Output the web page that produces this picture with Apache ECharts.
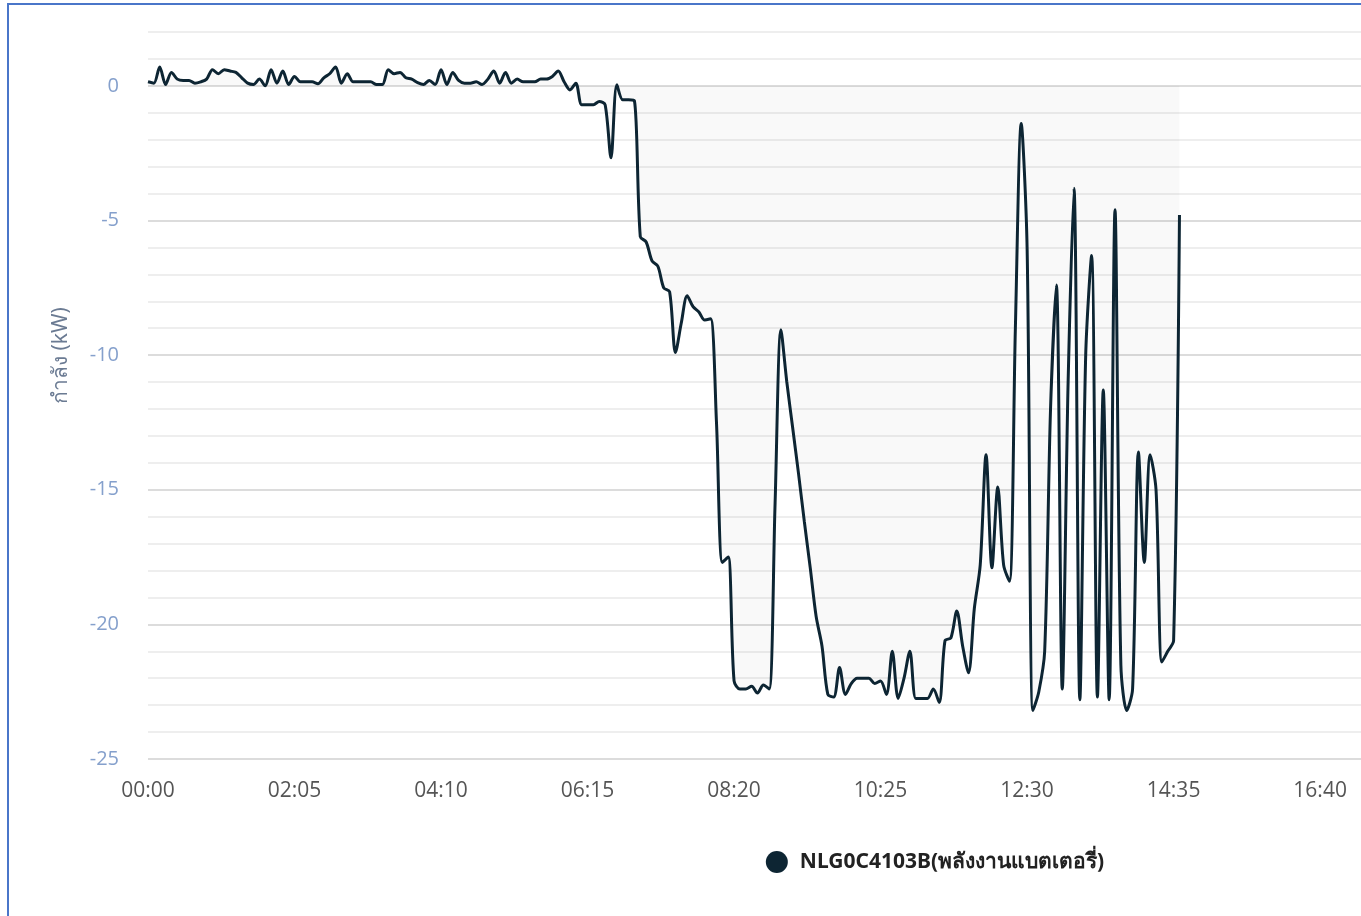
<!DOCTYPE html>
<html>
<head>
<meta charset="utf-8">
<script src="https://cdn.jsdelivr.net/npm/echarts@6/dist/echarts.min.js"></script>
<style>
html,body{margin:0;padding:0;width:1361px;height:916px;overflow:hidden;background:#fff;}
#frame{position:absolute;left:7px;top:3px;width:2000px;height:1200px;border:2px solid #4a76c9;box-sizing:border-box;}
#chart{position:absolute;left:10px;top:6px;width:1850px;height:910px;}
</style>
</head>
<body>
<div id="frame"></div>
<div id="chart"></div>
<script>
// time categories (5-minute steps, full day)
const times = [];
for (let m = 0; m < 1440; m += 5) {
  times.push(String(Math.floor(m / 60)).padStart(2, '0') + ':' + String(m % 60).padStart(2, '0'));
}
const seriesName = 'NLG0C4103B(พลังงานแบตเตอรี่)';
const yAxisName = 'กำลัง (kW)';
// battery power (kW), 00:00 .. 14:40
const power = [
  0.15, 0.1, 0.7, 0.05, 0.5, 0.25, 0.2, 0.2, 0.1, 0.15,
  0.25, 0.6, 0.45, 0.6, 0.55, 0.5, 0.3, 0.1, 0.05, 0.25,
  0.0, 0.6, 0.1, 0.55, 0.05, 0.35, 0.15, 0.15, 0.15, 0.08,
  0.3, 0.45, 0.7, 0.1, 0.45, 0.15, 0.15, 0.15, 0.15, 0.05,
  0.05, 0.6, 0.45, 0.5, 0.3, 0.25, 0.12, 0.05, 0.2, 0.05,
  0.6, 0.05, 0.5, 0.2, 0.1, 0.1, 0.15, 0.05, 0.25, 0.55,
  0.1, 0.5, 0.1, 0.25, 0.15, 0.15, 0.15, 0.25, 0.25, 0.35,
  0.55, 0.15, -0.15, 0.1, -0.7, -0.7, -0.7, -0.58, -0.7, -2.67,
  0.04, -0.52, -0.52, -0.55, -5.6, -5.8, -6.5, -6.7, -7.5, -7.65,
  -9.9, -8.8, -7.8, -8.2, -8.4, -8.7, -8.65, -12.5, -17.7, -17.5,
  -22.1, -22.4, -22.4, -22.3, -22.55, -22.25, -22.4, -15.5, -9.06, -11.0,
  -12.7, -14.4, -16.2, -17.9, -19.7, -20.8, -22.6, -22.7, -21.6, -22.6,
  -22.2, -22.0, -22.0, -22.0, -22.2, -22.1, -22.6, -21.0, -22.75, -22.0,
  -21.0, -22.75, -22.75, -22.75, -22.4, -22.9, -20.6, -20.5, -19.5, -20.8,
  -21.8, -19.4, -17.8, -13.7, -17.9, -14.9, -17.8, -18.4, -9.0, -1.4,
  -6.0, -23.2, -22.5, -21.0, -12.0, -7.4, -22.4, -11.0, -3.8, -22.8,
  -10.0, -6.3, -22.7, -11.3, -22.8, -4.6, -21.5, -23.2, -22.4, -13.6,
  -17.7, -13.7, -15.0, -21.4, -21.0, -20.6, -4.8
];

const chart = echarts.init(document.getElementById('chart'), null, {renderer: 'canvas'});
chart.setOption({
  animation: false,
  grid: {left: 138, right: 30, top: 26, bottom: 157},
  legend: {
    data: [seriesName],
    top: 840,
    left: 'center',
    icon: 'circle',
    itemWidth: 22,
    itemHeight: 22,
    textStyle: {fontFamily: 'Noto Sans, sans-serif', fontSize: 21, color: '#222', fontWeight: 'bold', padding: [0, 0, 0, 7]}
  },
  xAxis: {
    type: 'category',
    data: times,
    boundaryGap: false,
    axisLine: {show: false, onZero: false},
    axisTick: {show: false},
    splitLine: {show: false},
    axisLabel: {
      interval: 24,
      margin: 22,
      fontFamily: 'Open Sans, sans-serif',
      fontSize: 21,
      color: '#555'
    }
  },
  yAxis: {
    type: 'value',
    min: -25,
    max: 2,
    interval: 1,
    name: yAxisName,
    nameLocation: 'middle',
    nameRotate: 90,
    nameGap: 76,
    nameTextStyle: {fontFamily: 'Noto Sans, sans-serif', fontSize: 21, color: '#6b7b93', padding: [0, 0, 0, 80]},
    axisLine: {show: false},
    axisTick: {show: false},
    axisLabel: {
      margin: 29,
      fontFamily: 'Open Sans, sans-serif',
      fontSize: 20,
      color: '#85a0cc',
      formatter: function (v) { return v % 5 === 0 ? String(v) : ''; }
    },
    splitLine: {lineStyle: {color: ['#dcdcdc', '#eeeeee', '#eeeeee', '#eeeeee', '#eeeeee'], width: 2}}
  },
  series: [{
    name: seriesName,
    type: 'line',
    data: power,
    smooth: 0.3,
    showSymbol: false,
    symbol: 'circle',
    itemStyle: {color: '#0d2533'},
    lineStyle: {color: '#0d2533', width: 3},
    areaStyle: {color: 'rgba(0,0,0,0.03)'}
  }]
});
</script>
</body>
</html>
